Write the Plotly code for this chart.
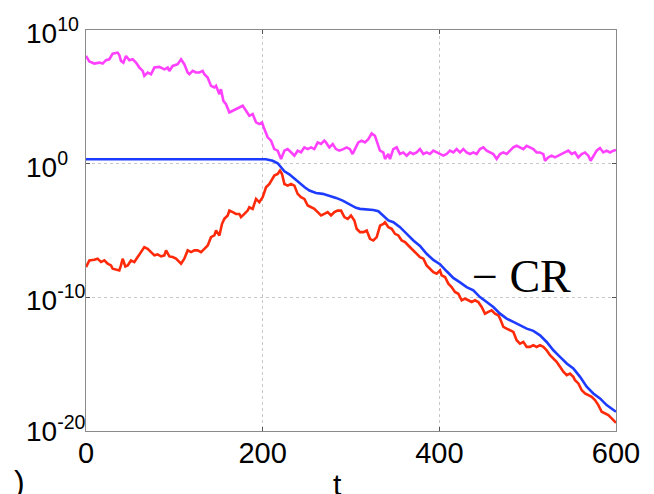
import plotly.graph_objects as go

# ---- data (log10 of the plotted quantity) ----
magenta_t = [0, 3.8, 9.4, 15.1, 18.9, 22.6, 26.4, 30.2, 35.8, 37.7, 39.6, 42.3, 45.3, 49.1, 52.8, 56.6,
             60.4, 64.2, 66.0, 69.8, 73.6, 77.4, 83.0, 88.7, 92.5, 94.3, 98.1, 103.8, 107.6, 111.3, 115.1,
             117.0, 120.8, 124.5, 128.3, 132.1, 134.0, 137.7, 141.5, 145.3, 147.2, 151.0, 152.8, 155.5,
             158.5, 162.3, 166.1, 169.8, 173.6, 177.4, 181.2, 184.9, 188.7, 192.5, 196.2, 199.3, 201.9,
             205.7, 209.5, 213.2, 217.0, 220.8, 224.6, 228.3, 232.1, 235.9, 239.6, 243.4, 247.2, 251.0,
             254.7, 258.5, 262.3, 266.1, 269.8, 271.7, 275.5, 279.3, 283.0, 286.8,
             291.3, 295.0, 298.8, 301.8, 304.5, 308.3, 312.0, 315.8, 319.6, 323.4, 327.1, 329.8, 332.8,
             336.6, 338.5, 342.2, 344.1, 347.9, 351.7, 355.4, 359.2, 363.0, 366.8, 370.5, 374.3, 378.1,
             381.9, 385.6, 389.4, 393.2, 396.9, 400.7, 404.5, 408.3, 412.0, 415.8, 419.6, 423.4, 427.1,
             430.9, 434.7, 438.5, 442.2, 446.0, 449.8, 453.6, 457.3, 461.1, 464.9, 468.7, 472.4, 476.2,
             480.0, 483.7, 487.5, 491.3, 495.1, 498.8, 502.6, 506.4, 510.2, 513.9, 517.7, 519.6, 523.4,
             527.1, 530.9, 534.7, 538.5, 542.2, 546.0, 549.8, 553.6, 557.3, 561.1, 564.9, 568.7, 571.3,
             574.3, 578.1, 581.9, 585.6, 589.4, 593.2, 597.0, 600.0]
magenta_log = [8.06, 7.64, 7.49, 7.56, 7.49, 7.74, 7.81, 8.23, 8.31, 8.13, 7.69, 7.56, 8.06, 7.74, 7.81, 7.56,
               7.19, 6.94, 6.57, 6.81, 6.69, 7.19, 7.24, 7.06, 7.19, 6.94, 7.31, 7.44, 7.81, 7.44, 6.82,
               6.69, 6.94, 6.82, 6.82, 6.94, 6.69, 6.44, 5.82, 5.70, 5.82, 5.20, 5.57, 4.70,
               4.45, 3.83, 3.96, 4.08, 4.20, 4.33, 3.96, 3.58, 3.71, 3.09, 2.96, 3.09, 2.59,
               1.97, 1.72, 1.09, 0.97, 0.35, 0.97, 1.09, 0.85, 0.60, 0.97, 0.85, 1.22, 1.09,
               1.22, 1.09, 1.59, 1.47, 1.72, 1.59, 1.22, 1.47, 1.09, 0.97,
               1.09, 1.22, 1.09, 0.72, 1.09, 1.59, 1.72, 1.59, 1.84, 2.26, 2.09, 1.59, 0.97,
               0.84, 0.35, 0.72, 0.35, 1.09, 1.22, 0.72, 0.84, 0.60, 0.84, 0.72, 0.84, 1.09,
               0.72, 0.84, 0.72, 0.97, 0.84, 0.72, 0.60, 0.72, 0.97, 0.84, 1.09, 0.84, 1.09,
               0.84, 0.72, 0.84, 0.72, 1.09, 1.22, 0.97, 0.84, 0.72, 0.35, 0.72, 0.84, 0.72,
               0.97, 1.22, 1.34, 1.22, 1.09, 1.34, 1.22, 1.09, 0.84, 0.84, 0.72, 0.22, 0.47,
               0.60, 0.47, 0.60, 0.72, 0.84, 0.97, 0.72, 0.84, 0.47, 0.72, 0.84, 0.60, 0.22,
               0.60, 0.97, 1.17, 0.84, 0.97, 0.84, 0.97, 1.02]

blue_t = [0, 150, 203.8, 211.3, 217.0, 220.8, 224.6, 230.2, 235.9, 241.5, 247.2, 252.9, 260.4, 268.0,
          275.5, 283.1, 290.6, 298.1, 305.7, 310.2, 317.8, 325.3, 331.0, 336.6, 342.3, 348.0, 355.5,
          363.1, 370.6, 378.1, 385.6, 393.2, 400.7, 408.3, 415.8, 423.4, 430.9, 438.5, 446.0, 453.6,
          461.1, 468.7, 476.2, 483.8, 491.3, 498.9, 506.4, 514.0, 521.5, 529.1, 536.6, 544.2, 551.7,
          559.3, 566.8, 574.3, 581.9, 589.4, 600.0]
blue_log = [0.33, 0.33, 0.33, 0.22, 0.03, -0.27, -0.57, -0.80, -1.14, -1.45, -1.75, -2.01, -2.19, -2.26,
            -2.39, -2.56, -2.76, -3.01, -3.30, -3.38, -3.43, -3.46, -3.56, -3.88, -4.25, -4.38, -4.75,
            -5.25, -5.75, -6.15, -6.74, -7.20, -7.52, -8.05, -8.55, -8.88, -9.23, -9.48, -9.98, -10.35,
            -10.72, -11.22, -11.59, -11.84, -12.09, -12.34, -12.51, -12.84, -13.34, -13.96, -14.45, -14.95, -15.32,
            -15.95, -16.69, -17.19, -17.56, -18.06, -18.56]

red_t = [0, 3.8, 9.4, 13.2, 17.0, 20.8, 24.5, 28.3, 30.2, 34.0, 37.7, 39.6, 41.5, 44.5, 47.2, 50.9, 54.7,
         58.5, 62.3, 66.0, 69.8, 73.6, 77.4, 81.1, 84.9, 88.7, 90.6, 94.4, 98.1, 101.9, 105.7, 107.6,
         111.3, 115.1, 118.9, 122.7, 126.4, 130.2, 134.0, 137.8, 141.5, 145.3, 147.2, 151.0, 154.0,
         156.6, 160.4, 162.3, 166.1, 169.8, 173.6, 175.5, 179.3, 183.0, 184.9, 188.7, 192.5, 196.2,
         200.0, 203.8, 207.6, 211.3, 213.2, 217.0, 219.6, 221.9, 224.6, 228.3, 232.1, 235.9, 239.6,
         243.4, 247.2, 251.0, 254.7, 258.5, 262.3, 266.1, 269.8, 273.6, 277.4, 281.2, 284.9, 288.7,
         292.5, 296.3, 300.0, 303.8, 306.4, 310.2, 314.0, 317.8, 321.5, 325.3, 329.1, 332.9, 336.6,
         338.5, 342.3, 346.1, 349.8, 353.6, 357.4, 361.2, 364.9, 368.7, 372.5, 376.3,
         378.1, 381.9, 385.6, 389.4, 393.2, 397.0, 400.7, 402.6, 406.4, 410.2, 413.9, 417.7, 421.5,
         425.3, 429.0, 432.8, 436.6, 440.4, 444.1, 447.9, 451.7, 455.5, 459.2, 463.0, 466.8, 468.7,
         472.5, 476.2, 480.0, 483.8, 487.5, 491.3, 495.1, 498.9, 502.6, 506.4, 510.2, 514.0, 517.7,
         521.5, 525.3, 529.1, 532.8, 536.6, 540.4, 544.2, 547.9, 551.7, 553.6, 557.4, 561.1, 564.9,
         568.7, 572.5, 576.2, 580.0, 583.8, 587.6, 591.3, 595.1, 598.9, 600.0]
red_log = [-7.74, -7.24, -7.19, -7.11, -7.36, -7.24, -7.49, -7.61, -7.86, -7.94, -7.99, -7.61, -7.11, -7.69,
           -7.61, -7.24, -7.36, -6.99, -6.62, -6.24, -6.37, -6.62, -6.86, -6.79, -6.94, -6.86, -6.49, -6.94,
           -6.99, -7.11, -7.36, -7.49, -7.11, -6.49, -6.62, -6.49, -6.49, -6.62, -6.37, -6.12, -5.50,
           -5.37, -5.00, -5.37, -4.50, -4.13, -3.88, -3.51, -3.63, -3.76, -3.76, -4.00, -3.76, -3.51,
           -3.26, -3.38, -2.64, -2.89, -2.51, -1.77, -1.52, -1.14, -0.89, -0.77, -0.52, -0.77, -1.52,
           -1.64, -1.52, -1.64, -2.26, -2.51, -2.64, -3.13, -3.26, -3.38, -3.63, -3.88, -3.76, -3.63,
           -3.88, -3.63, -3.51, -3.51, -4.00, -4.13, -3.88, -4.25, -4.87, -5.12, -5.12, -5.00, -5.62,
           -5.75, -5.50, -4.63, -4.50, -4.38, -4.75, -4.87, -5.25, -5.37, -5.75, -5.87, -6.12, -6.37,
           -6.62, -6.87, -6.99, -7.11, -7.61, -7.86, -8.11, -8.23, -7.99, -8.36, -8.48, -8.98, -9.23,
           -9.60, -9.73, -10.22, -10.10, -10.22, -10.35, -10.22, -10.35, -10.72, -11.22, -11.09, -10.97,
           -11.22, -11.34, -11.59, -12.21, -12.34, -12.46, -12.59, -13.21, -13.46, -13.33, -13.71, -13.71,
           -13.58, -13.71, -13.58, -13.71, -13.96, -14.33, -14.58, -14.83, -15.20, -15.57, -15.82, -15.70,
           -15.95, -16.20, -16.44, -16.94, -17.19, -17.31, -17.44, -17.69, -18.06, -18.56, -18.68, -18.81,
           -19.06, -19.31, -19.38]

x_ticks = [0, 200, 400, 600]
y_tick_exps = [-20, -10, 0, 10]
y_tick_text = ["10<sup>-20</sup>", "10<sup>-10</sup>", "10<sup>0</sup>", "10<sup>10</sup>"]

W, H = 654, 494
L, R, T, B = 86, 38, 30, 63
pw, ph = W - L - R, H - T - B


def px(x):
    return (x - L) / pw


def py(y):
    return 1 - (y - T) / ph


fig = go.Figure()
for t, lg, col in [(magenta_t, magenta_log, "#ff40ff"),
                   (red_t, red_log, "#ff2a0a"),
                   (blue_t, blue_log, "#1e3cff")]:
    fig.add_trace(go.Scatter(x=t, y=[10 ** v for v in lg], mode="lines",
                             line=dict(color=col, width=2.6), showlegend=False, hoverinfo="skip"))

axis_common = dict(showline=True, mirror="ticks", linecolor="#8a8a8a", linewidth=1,
                   ticks="inside", ticklen=4, tickcolor="#555555",
                   showgrid=True, gridcolor="#c8c8c8", griddash="dot", gridwidth=1,
                   zeroline=False)

fig.update_xaxes(range=[0, 600], tickvals=x_ticks, ticklabelstandoff=-4,
                 tickfont=dict(family="Liberation Sans", size=29, color="black"), **axis_common)
fig.update_yaxes(type="log", range=[-20, 10], tickvals=[10.0 ** e for e in y_tick_exps],
                 showticklabels=False, **axis_common)

# left-aligned y tick labels (as in the reference)
for e, txt in zip(y_tick_exps, y_tick_text):
    fig.add_annotation(x=px(24), y=e, xref="paper", yref="y", text=txt, showarrow=False,
                       xanchor="left", yanchor="middle", yshift=-1 if e > -20 else 2,
                       font=dict(family="Liberation Sans", size=28, color="black"))

fig.add_annotation(x=px(470), y=py(276), xref="paper", yref="paper", text="− CR", showarrow=False,
                   xanchor="left", yanchor="middle",
                   font=dict(family="Liberation Serif", size=46, color="black"))
fig.add_annotation(x=px(337), y=py(503), xref="paper", yref="paper", text="t", showarrow=False,
                   font=dict(family="Liberation Sans", size=30, color="black"))
fig.add_annotation(x=px(12), y=py(502), xref="paper", yref="paper", text=")", showarrow=False,
                   font=dict(family="Liberation Sans", size=32, color="black"))

fig.update_layout(width=W, height=H, margin=dict(l=L, r=R, t=T, b=B, autoexpand=False),
                  paper_bgcolor="white", plot_bgcolor="white")
fig.write_html("out.html")
